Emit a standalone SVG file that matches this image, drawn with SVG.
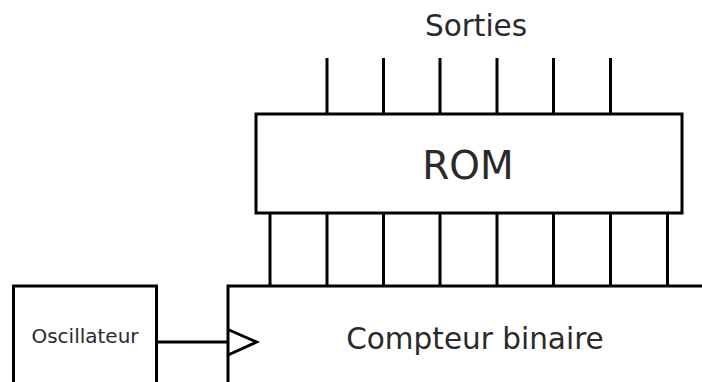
<svg xmlns="http://www.w3.org/2000/svg" width="702" height="382" viewBox="0 0 702 382">
<style>
.box{fill:#fff;stroke:#000;stroke-width:3}
.w{stroke:#000;stroke-width:3;fill:none}
text{font-family:"DejaVu Sans",sans-serif;fill:#2a2a2a;text-anchor:middle}
</style>
<rect width="702" height="382" fill="#fff"/>
<text x="476" y="36" font-size="29.5">Sorties</text>
<g id="connectors">
<path class="w" d="M327 58V114M383.5 58V114M440 58V114M497 58V114M553.5 58V114M610.5 58V114"/>
<path class="w" d="M270 213V286M327 213V286M383.5 213V286M440 213V286M497 213V286M553.5 213V286M610.5 213V286M667.5 213V286"/>
<path class="w" d="M157 342H228"/>
</g>
<g id="rom">
<rect class="box" x="256" y="114" width="426" height="99"/>
<text x="468" y="179" font-size="39">ROM</text>
</g>
<g id="compteur">
<rect class="box" x="228" y="286" width="490" height="120"/>
<path class="w" d="M228 329.5L256.5 342L228 355"/>
<text x="475" y="349" font-size="29.5">Compteur binaire</text>
</g>
<g id="oscillateur">
<rect class="box" x="13.5" y="286" width="143" height="120"/>
<text x="85" y="343" font-size="20">Oscillateur</text>
</g>
</svg>
